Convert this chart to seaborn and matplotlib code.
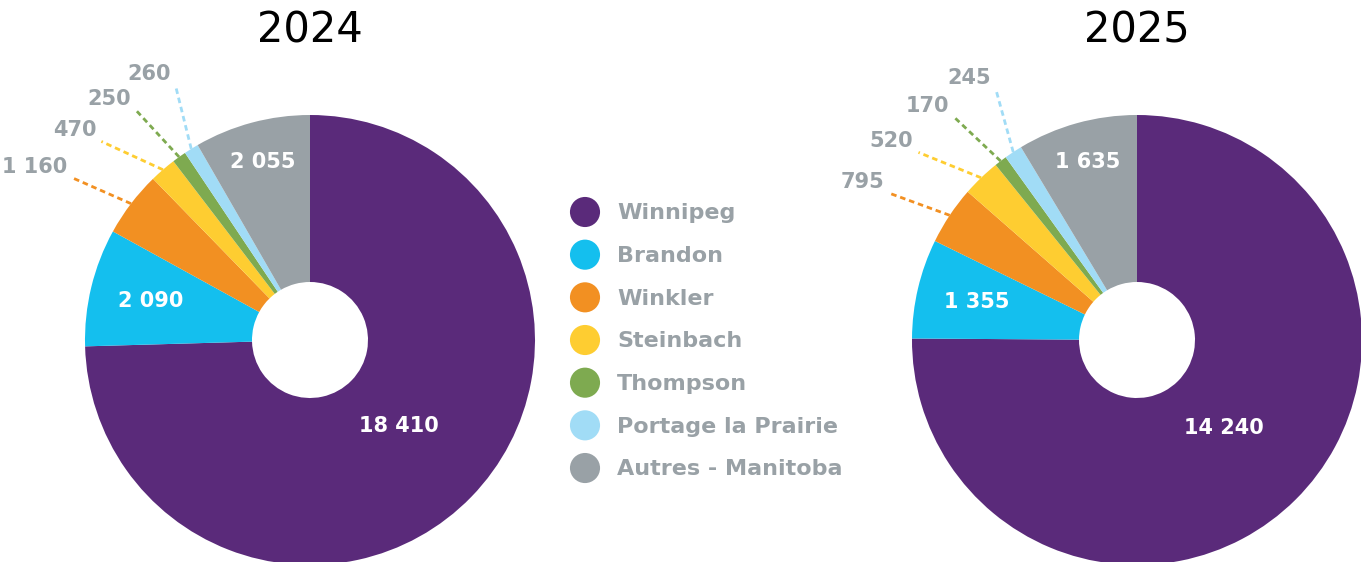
import numpy as np
import pandas as pd
import matplotlib
matplotlib.use("Agg")
import matplotlib.pyplot as plt
import seaborn as sns

# donnees
villes = ["Winnipeg", "Brandon", "Winkler", "Steinbach", "Thompson",
          "Portage la Prairie", "Autres - Manitoba"]
valeurs_2024 = [18410, 2090, 1160, 470, 250, 260, 2055]
valeurs_2025 = [14240, 1355, 795, 520, 170, 245, 1635]
annees = ["2024", "2025"]
couleurs = ["#5a2a7a", "#14bfee", "#f29022", "#fecd31", "#7eaa50", "#a1dcf6", "#99a1a6"]
gris = "#99a1a6"

def fmt(v):
    return f"{v:,}".replace(",", " ")

sns.set_theme(style="white")
plt.rcParams['font.family'] = ['DejaVu Sans']

W, H = 1361, 562
fig = plt.figure(figsize=(W / 100, H / 100), dpi=100)

def axes_px(x0, y0, w, h):
    # y0 = top edge in pixels from the top of the picture
    return fig.add_axes([x0 / W, (H - y0 - h) / H, w / W, h / H])

R = 225
centres = [(310, 340), (1137, 340)]
rayon_interieur = {0: 0.55, 1: 0.73, 6: 0.82}
exterieur = [2, 3, 4, 5]

for (cx, cy), annee, vals in zip(centres, annees, [valeurs_2024, valeurs_2025]):
    ax = axes_px(cx - R, cy - R, 2 * R, 2 * R)
    wedges, _ = ax.pie(vals, colors=couleurs, startangle=90, counterclock=False,
                       radius=1, wedgeprops=dict(width=1 - 58 / R, linewidth=0))
    ax.set_xlim(-1, 1)
    ax.set_ylim(-1, 1)
    ax.set_aspect("equal")
    ax.axis("off")
    ax.set_title(annee, fontsize=30, color="black", pad=52)

    mids = [np.deg2rad((w.theta1 + w.theta2) / 2) for w in wedges]

    for i, r in rayon_interieur.items():
        ax.text(r * np.cos(mids[i]), r * np.sin(mids[i]), fmt(vals[i]),
                ha="center", va="center", color="white", fontsize=15,
                fontweight="bold")

    # lignes pointillees vers les petites valeurs
    fins = np.linspace(mids[exterieur[0]] + np.deg2rad(3),
                       mids[exterieur[-1]] - np.deg2rad(4), len(exterieur))
    for i, a_fin in zip(exterieur, fins):
        x0, y0 = np.cos(mids[i]), np.sin(mids[i])
        x1, y1 = 1.28 * np.cos(a_fin), 1.28 * np.sin(a_fin)
        ax.plot([x0, x1], [y0, y1], color=couleurs[i], lw=2,
                linestyle=(0, (2, 1.4)), clip_on=False)
        ax.annotate(fmt(vals[i]), (x1, y1), xytext=(-5, 5),
                    textcoords="offset pixels", ha="right", va="baseline",
                    color=gris, fontsize=15, fontweight="bold",
                    annotation_clip=False)

# legende au centre
pas = 42.67
ax_leg = axes_px(560, 212 - pas / 2, 300, pas * len(villes))
df_leg = pd.DataFrame({"x": [25] * len(villes), "y": range(len(villes)),
                       "ville": villes})
sns.scatterplot(data=df_leg, x="x", y="y", hue="ville", palette=couleurs,
                s=470, linewidth=0, legend=False, ax=ax_leg)
for i, v in enumerate(villes):
    ax_leg.text(57, i + 0.17, v, ha="left", va="baseline", color=gris,
                fontsize=16, fontweight="bold")
ax_leg.set_xlim(0, 300)
ax_leg.set_ylim(len(villes) - 0.5, -0.5)
ax_leg.axis("off")

fig.savefig("out.png", dpi=100)
